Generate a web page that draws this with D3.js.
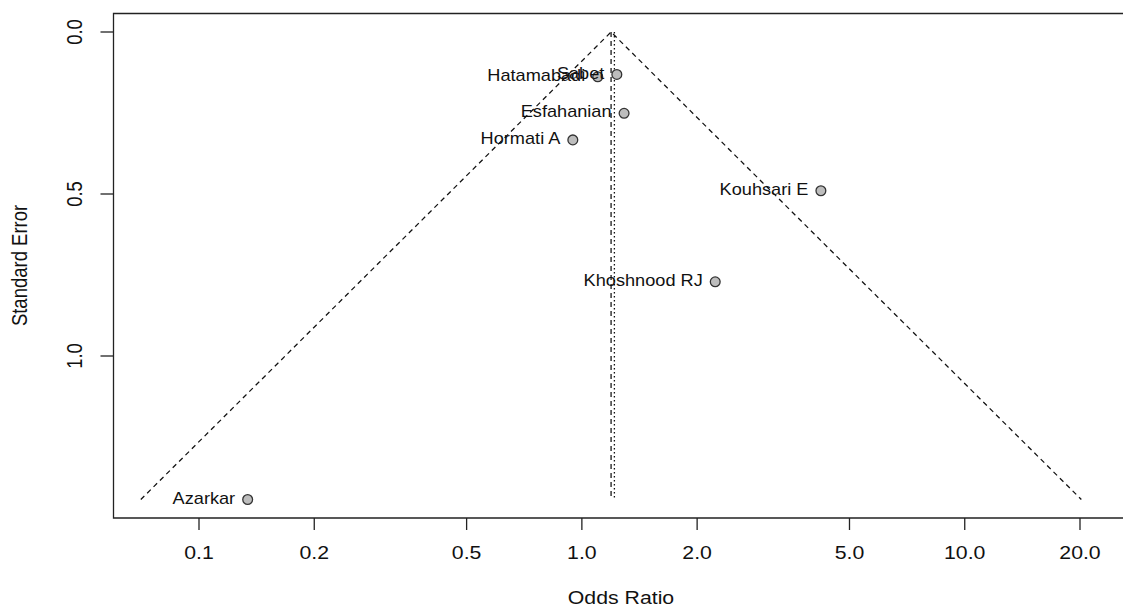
<!DOCTYPE html>
<html><head><meta charset="utf-8">
<script src="https://cdn.jsdelivr.net/npm/d3@7"></script>
<style>body{margin:0;background:#fff}svg{display:block}text{font-family:"Liberation Sans",Arial,sans-serif;fill:#111}</style>
</head><body>
<svg id="c" width="1123" height="608"></svg>
<script>
// Data
const studies = ["Sabet","Hatamabadi","Esfahanian","Hormati A","Kouhsari E","Khoshnood RJ","Azarkar"];
const oddsRatio = [1.234, 1.100, 1.289, 0.947, 4.21, 2.23, 0.134];
const stdError = [0.131, 0.138, 0.251, 0.333, 0.490, 0.771, 1.443];
const fixedOR = 1.192;
const randomOR = 1.216;
const xTicks = [0.1, 0.2, 0.5, 1.0, 2.0, 5.0, 10.0, 20.0];
const yTicks = [0.0, 0.5, 1.0];

const svg = d3.select("#c");
const SX = 1.15; // horizontal glyph stretch of the reference
const x = d3.scaleLog().domain([0.1, 20]).range([199, 1080]);
const y = d3.scaleLinear().domain([0, 1]).range([32, 356]);
const seMax = d3.max(stdError);
const box = {l:113.5, t:13.5, r:1128, b:518};

// box
svg.append("path").attr("d", `M${box.r},${box.t}H${box.l}V${box.b}H${box.r}`)
  .attr("fill","none").attr("stroke","#222").attr("stroke-width",1.3);

// funnel lines
const z = 1.96;
const lo = fixedOR*Math.exp(-z*seMax), hi = fixedOR*Math.exp(z*seMax);
svg.append("path")
  .attr("d", d3.line()([[x(lo), y(seMax)], [x(fixedOR), y(0)], [x(hi), y(seMax)]]))
  .attr("fill","none").attr("stroke","#111").attr("stroke-width",1.25).attr("stroke-dasharray","5,4");
svg.append("line").attr("x1",x(fixedOR)).attr("x2",x(fixedOR)).attr("y1",y(0)).attr("y2",y(seMax))
  .attr("stroke","#111").attr("stroke-width",1.25).attr("stroke-dasharray","5,4");
svg.append("line").attr("x1",x(randomOR)).attr("x2",x(randomOR)).attr("y1",y(0)).attr("y2",y(seMax))
  .attr("stroke","#111").attr("stroke-width",1.3).attr("stroke-dasharray","1.5,2.5");

// points
const pts = studies.map((s,i)=>({s, or:oddsRatio[i], se:stdError[i]}));
svg.selectAll("circle.p").data(pts).join("circle").attr("class","p")
  .attr("cx",d=>x(d.or)).attr("cy",d=>y(d.se)).attr("r",4.9)
  .attr("fill","#bdbdbd").attr("stroke","#333").attr("stroke-width",1.3);
svg.selectAll("text.lab").data(pts).join("text").attr("class","lab")
  .attr("transform",d=>`translate(${x(d.or)-12.5},${y(d.se)-1}) scale(${SX},1)`)
  .attr("text-anchor","end").attr("dominant-baseline","central")
  .attr("font-size","15.8px").text(d=>d.s);

// x axis
const xa = svg.append("g");
xa.selectAll("line").data(xTicks).join("line")
  .attr("x1",d=>x(d)).attr("x2",d=>x(d)).attr("y1",box.b).attr("y2",box.b+12)
  .attr("stroke","#222").attr("stroke-width",1.3);
xa.selectAll("text").data(xTicks).join("text")
  .attr("transform",d=>`translate(${x(d)},559) scale(${SX},1)`)
  .attr("text-anchor","middle").attr("font-size","18.5px").text(d=>d.toFixed(1));

// y axis
const ya = svg.append("g");
ya.selectAll("line").data(yTicks).join("line")
  .attr("x1",box.l-13).attr("x2",box.l).attr("y1",d=>y(d)).attr("y2",d=>y(d))
  .attr("stroke","#222").attr("stroke-width",1.3);
ya.selectAll("text").data(yTicks).join("text")
  .attr("transform",d=>`translate(82,${y(d)}) scale(${SX},1) rotate(-90)`)
  .attr("text-anchor","middle").attr("font-size","18.5px").text(d=>d.toFixed(1));

// axis titles
svg.append("text").attr("transform",`translate(621,604) scale(${SX},1)`)
  .attr("text-anchor","middle").attr("font-size","18.5px").text("Odds Ratio");
svg.append("text").attr("transform",`translate(27,265.5) scale(${SX},1) rotate(-90)`)
  .attr("text-anchor","middle").attr("font-size","18.5px").text("Standard Error");
</script>
</body></html>
